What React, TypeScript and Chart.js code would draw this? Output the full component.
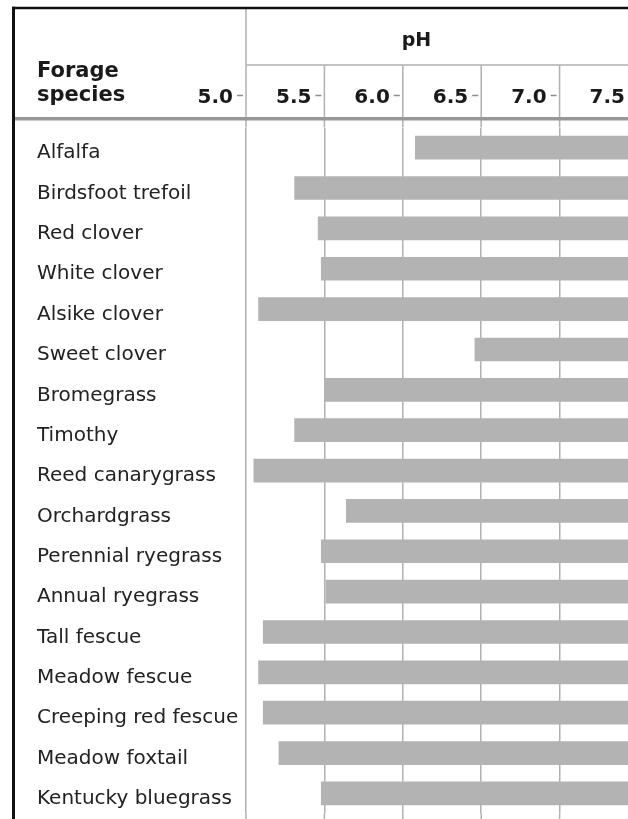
import React, { useEffect, useRef } from "react";
import { Chart, registerables } from "chart.js";

Chart.register(...registerables);

const species = [
  "Alfalfa",
  "Birdsfoot trefoil",
  "Red clover",
  "White clover",
  "Alsike clover",
  "Sweet clover",
  "Bromegrass",
  "Timothy",
  "Reed canarygrass",
  "Orchardgrass",
  "Perennial ryegrass",
  "Annual ryegrass",
  "Tall fescue",
  "Meadow fescue",
  "Creeping red fescue",
  "Meadow foxtail",
  "Kentucky bluegrass",
];

const phLow = [6.08, 5.31, 5.46, 5.48, 5.08, 6.46, 5.5, 5.31, 5.05, 5.64, 5.48, 5.51, 5.11, 5.08, 5.11, 5.21, 5.48];
const phHigh = [7.5, 7.5, 7.5, 7.5, 7.5, 7.5, 7.5, 7.5, 7.5, 7.5, 7.5, 7.5, 7.5, 7.5, 7.5, 7.5, 7.5];

const phTickValues = [5.0, 5.5, 6.0, 6.5, 7.0, 7.5];
const phTickLabels = ["5.0", "5.5", "6.0", "6.5", "7.0", "7.5"];

const headerPlugin = {
  id: "header",
  afterDraw(chart: any) {
    const ctx = chart.ctx as CanvasRenderingContext2D;
    const xs = chart.scales.x;
    const area = chart.chartArea;
    const W = chart.width;
    const H = chart.height;
    ctx.save();

    // header grid lines + extension below chart area
    ctx.strokeStyle = "#b0b0b0";
    ctx.lineWidth = 1.5;
    phTickValues.forEach((v, i) => {
      const px = xs.getPixelForValue(v);
      ctx.beginPath();
      ctx.moveTo(px, i === 0 ? 8 : 65);
      ctx.lineTo(px, area.top);
      ctx.moveTo(px, area.bottom);
      ctx.lineTo(px, H);
      ctx.stroke();
    });
    // line under "pH"
    ctx.beginPath();
    ctx.moveTo(xs.getPixelForValue(5.0), 65);
    ctx.lineTo(W, 65);
    ctx.stroke();

    // tick dashes
    ctx.strokeStyle = "#8c8c8c";
    ctx.lineWidth = 1.5;
    phTickValues.forEach((v) => {
      const px = xs.getPixelForValue(v);
      ctx.beginPath();
      ctx.moveTo(px - 9, 95.5);
      ctx.lineTo(px - 3, 95.5);
      ctx.stroke();
    });

    // tick labels
    ctx.fillStyle = "#1a1a1a";
    ctx.font = "bold 20px 'DejaVu Sans'";
    ctx.textAlign = "right";
    ctx.textBaseline = "alphabetic";
    phTickValues.forEach((v, i) => {
      const px = xs.getPixelForValue(v);
      ctx.fillText(phTickLabels[i], px - 13, 102.5);
    });

    // pH title
    ctx.font = "bold 19px 'DejaVu Sans'";
    ctx.textAlign = "center";
    ctx.fillText("pH", 416.5, 45.5);

    // Forage species
    ctx.font = "bold 21px 'DejaVu Sans'";
    ctx.textAlign = "left";
    ctx.fillText("Forage", 37, 76.5);
    ctx.fillText("species", 37, 101);

    // thick grey rule
    ctx.strokeStyle = "#979797";
    ctx.lineWidth = 3.5;
    ctx.beginPath();
    ctx.moveTo(12, 118.75);
    ctx.lineTo(W, 118.75);
    ctx.stroke();

    // black frame
    ctx.strokeStyle = "#111";
    ctx.lineWidth = 2.5;
    ctx.beginPath();
    ctx.moveTo(12, 8);
    ctx.lineTo(W, 8);
    ctx.stroke();
    ctx.lineWidth = 3;
    ctx.beginPath();
    ctx.moveTo(13.5, 6.75);
    ctx.lineTo(13.5, H);
    ctx.stroke();

    ctx.restore();
  },
};

export default function App() {
  const ref = useRef<HTMLCanvasElement>(null);

  useEffect(() => {
    if (!ref.current) return;
    const chart = new Chart(ref.current, {
      type: "bar",
      data: {
        labels: species,
        datasets: [
          {
            data: species.map((_, i) => [phLow[i], phHigh[i]]) as any,
            backgroundColor: "#b3b3b3",
            borderWidth: 0,
            barThickness: 23,
          },
        ],
      },
      options: {
        indexAxis: "y",
        responsive: false,
        animation: false,
        layout: { padding: { left: 37, top: 127.5, right: 0, bottom: 5.4 } },
        plugins: {
          legend: { display: false },
          tooltip: { enabled: false },
        },
        scales: {
          x: {
            type: "linear",
            position: "top",
            min: 5.0,
            max: 7.5,
            ticks: { display: false, stepSize: 0.5 },
            grid: { color: "#b0b0b0", lineWidth: 1.5, drawTicks: false },
            border: { display: false },
          },
          y: {
            type: "category",
            ticks: {
              crossAlign: "far",
              color: "#222",
              font: { family: "DejaVu Sans", size: 20 },
              labelOffset: 5.5,
              padding: 0,
              autoSkip: false,
            },
            grid: { display: false, drawTicks: false },
            border: { display: false },
            afterFit: (s: any) => {
              s.width = 209;
              s.paddingTop = 0;
              s.paddingBottom = 0;
            },
          },
        },
      },
      plugins: [headerPlugin],
    });
    return () => chart.destroy();
  }, []);

  return (
    <div
      style={{
        position: "fixed",
        left: 0,
        top: 0,
        width: 628,
        height: 819,
        overflow: "hidden",
        background: "#fff",
      }}
    >
      <canvas ref={ref} width={638} height={819} style={{ display: "block", width: 638, height: 819 }} />
    </div>
  );
}
